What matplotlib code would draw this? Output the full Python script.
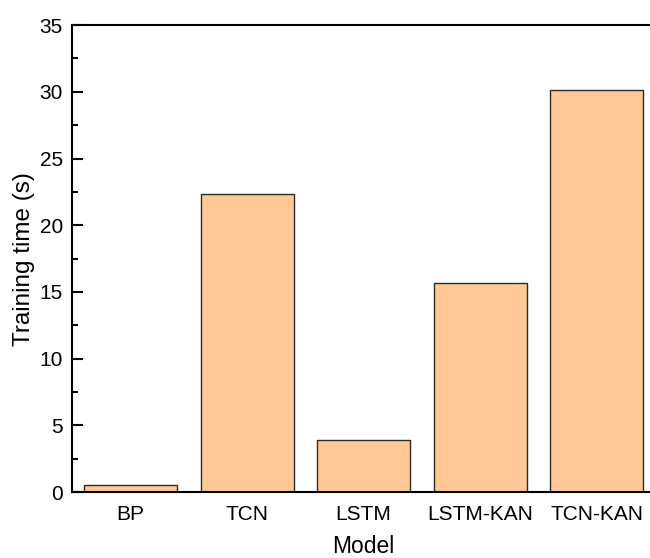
import matplotlib
matplotlib.use("Agg")
import matplotlib.pyplot as plt
from matplotlib.ticker import MultipleLocator

models = ["BP", "TCN", "LSTM", "LSTM-KAN", "TCN-KAN"]
train_time = [0.5, 22.35, 3.9, 15.7, 30.15]

plt.rcParams["font.family"] = ["Liberation Sans", "DejaVu Sans"]

fig = plt.figure(figsize=(6.5, 5.58), dpi=100)
ax = fig.add_axes([0.1115, 0.118, 0.896, 0.837])

x = range(len(models))
ax.bar(x, train_time, width=0.8, color="#FFC896", edgecolor="#2a2a2a", linewidth=1.0)

ax.set_xlim(-0.5, len(models) - 0.5)
ax.set_ylim(0, 35)
ax.set_xticks(list(x))
ax.set_xticklabels(models)
ax.yaxis.set_major_locator(MultipleLocator(5))
ax.yaxis.set_minor_locator(MultipleLocator(2.5))

for s in ax.spines.values():
    s.set_linewidth(1.5)
ax.tick_params(axis="y", which="major", direction="in", length=8, width=1.5,
               labelsize=15, pad=7)
ax.tick_params(axis="y", which="minor", direction="in", length=4, width=1.5)
ax.tick_params(axis="x", which="both", length=0, labelsize=15, pad=9)

ax.set_xlabel("Model", fontsize=16.5, labelpad=8)
ax.set_ylabel("Training time (s)", fontsize=17.5, labelpad=3)

fig.savefig("out.png", dpi=100)
